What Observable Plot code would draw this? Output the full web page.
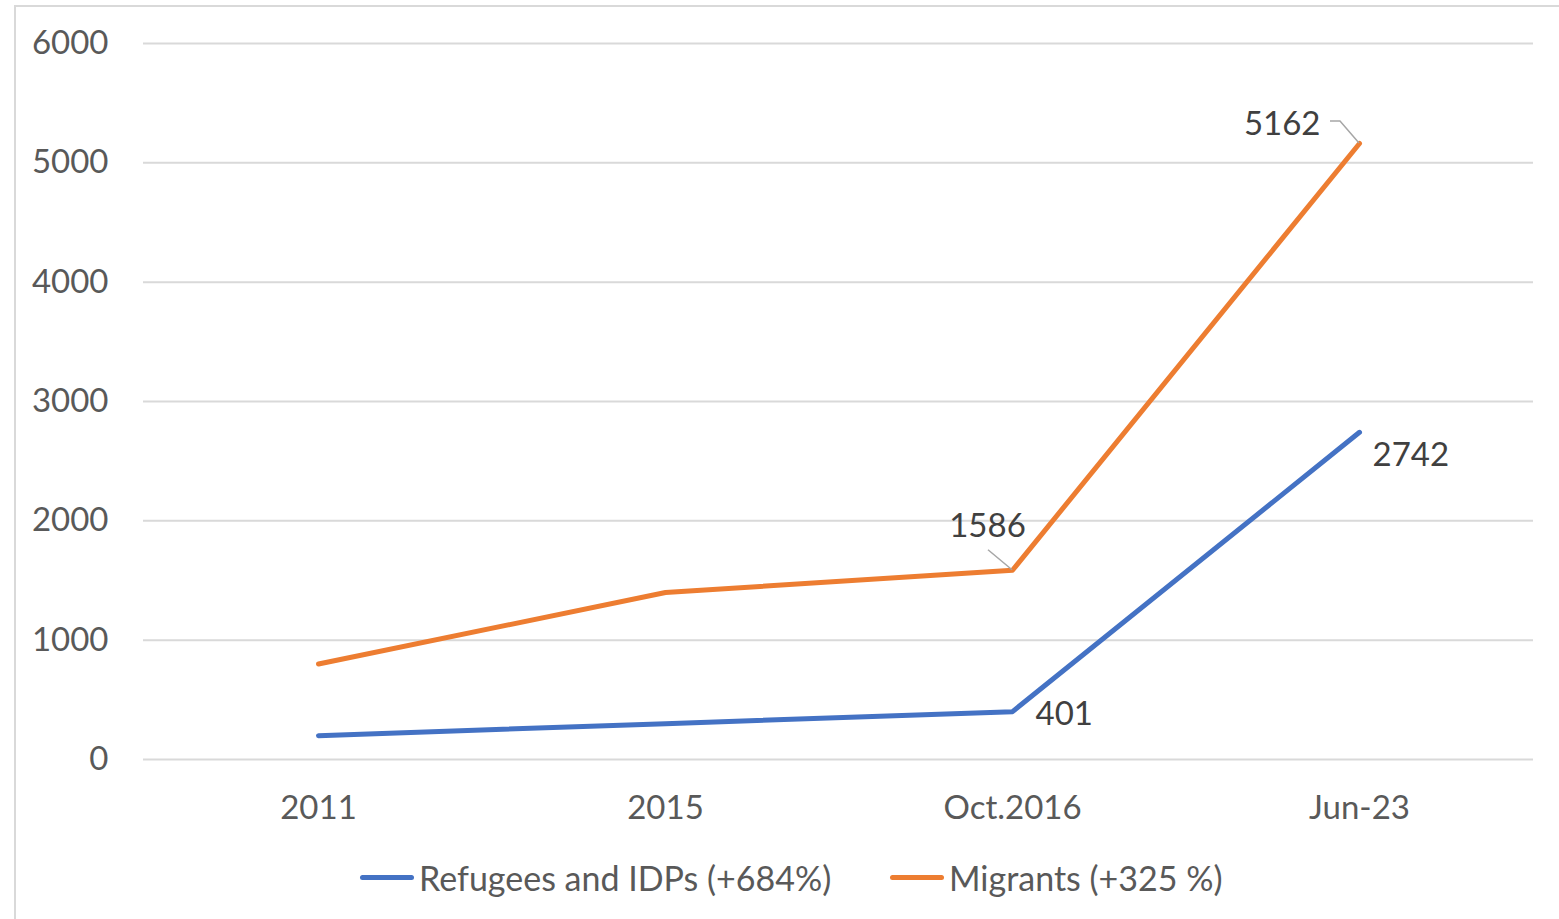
<!DOCTYPE html>
<html>
<head>
<meta charset="utf-8">
<script src="https://cdn.jsdelivr.net/npm/d3@7"></script>
<script src="https://cdn.jsdelivr.net/npm/@observablehq/plot@0.6"></script>
<style>
  html, body { margin: 0; padding: 0; background: #fff; }
  body { width: 1559px; height: 919px; overflow: hidden; position: relative; font-family: Lato, "Open Sans", sans-serif; }
  #frame { position: absolute; left: 14px; top: 5px; width: 1600px; height: 1000px; border: 2px solid #d9d9d9; box-sizing: border-box; }
  #chart { position: absolute; left: 0; top: 0; }
  #legend { position: absolute; left: 0; top: 852px; width: 1559px; height: 50px; }
  .item { position: absolute; top: 0; display: flex; align-items: center; height: 50px; font-size: 34px; color: #595959; white-space: nowrap; }
  .swatch { display: inline-block; width: 54px; height: 5px; border-radius: 3px; margin-right: 5px; }
</style>
</head>
<body>
<div id="frame"></div>
<div id="chart"></div>
<div id="legend"></div>
<script>
const periods = ["2011", "2015", "Oct.2016", "Jun-23"];
const refugees = [200, 300, 401, 2742];
const migrants = [800, 1400, 1586, 5162];
const seriesNames = ["Refugees and IDPs (+684%)", "Migrants (+325 %)"];
const seriesColors = ["#4472C4", "#ED7D31"];
const yTicks = [0, 1000, 2000, 3000, 4000, 5000, 6000];

// labelled points: series index, period index, text offsets (px), anchor, leader polyline (px offsets)
const labels = [
  {s: 1, i: 3, dx: -39, dy: -19, anchor: "end", leader: [[0, 0], [-19, -22], [-29, -22]]},
  {s: 1, i: 2, dx: -25, dy: -44, anchor: "middle", leader: [[0, 0], [-24, -20]]},
  {s: 0, i: 2, dx: 23, dy: 3, anchor: "start", leader: null},
  {s: 0, i: 3, dx: 13, dy: 23, anchor: "start", leader: null}
];

const allSeries = [refugees, migrants];
const rows = [];
allSeries.forEach((vals, s) => vals.forEach((v, i) => rows.push({series: seriesNames[s], period: periods[i], value: v})));
const labelRows = labels.map(l => ({...l, period: periods[l.i], value: allSeries[l.s][l.i]}));

const leaderMark = (index, scales) => {
  const g = d3.create("svg:g");
  const bw = scales.x.bandwidth ? scales.x.bandwidth() / 2 : 0;
  for (const l of labelRows) {
    if (!l.leader) continue;
    const x0 = scales.x(l.period) + bw, y0 = scales.y(l.value);
    g.append("path")
      .attr("d", d3.line()(l.leader.map(([dx, dy]) => [x0 + dx, y0 + dy])))
      .attr("fill", "none").attr("stroke", "#a6a6a6").attr("stroke-width", 1.5);
  }
  return g.node();
};

const labelMarks = labelRows.map(l =>
  Plot.text([l], {x: "period", y: "value", text: d => String(d.value), dx: l.dx, dy: l.dy, textAnchor: l.anchor, fill: "#404040", fontSize: 33})
);

const chart = Plot.plot({
  width: 1559,
  height: 840,
  marginTop: 43,
  marginBottom: 81,
  marginLeft: 143,
  marginRight: 26,
  style: {fontFamily: "Lato, 'Open Sans', sans-serif", fontSize: "33px", color: "#595959", background: "transparent"},
  x: {type: "point", domain: periods, padding: 0.5, label: null, tickSize: 0, tickPadding: 36},
  y: {domain: [0, 6000], ticks: yTicks, tickFormat: d => String(d), label: null, tickSize: 0, tickPadding: 35},
  color: {domain: seriesNames, range: seriesColors},
  marks: [
    Plot.ruleY(yTicks, {stroke: "#d9d9d9", strokeWidth: 2}),
    Plot.line(rows, {x: "period", y: "value", z: "series", stroke: "series", strokeWidth: 5, strokeLinecap: "round", strokeLinejoin: "round"}),
    leaderMark,
    ...labelMarks
  ]
});
document.getElementById("chart").appendChild(chart);

const legend = document.getElementById("legend");
const legendX = [360, 890];
seriesNames.forEach((n, k) => {
  const it = document.createElement("div");
  it.className = "item";
  it.style.left = legendX[k] + "px";
  it.innerHTML = `<span class="swatch" style="background:${seriesColors[k]}"></span>${n}`;
  legend.appendChild(it);
});
</script>
</body>
</html>
